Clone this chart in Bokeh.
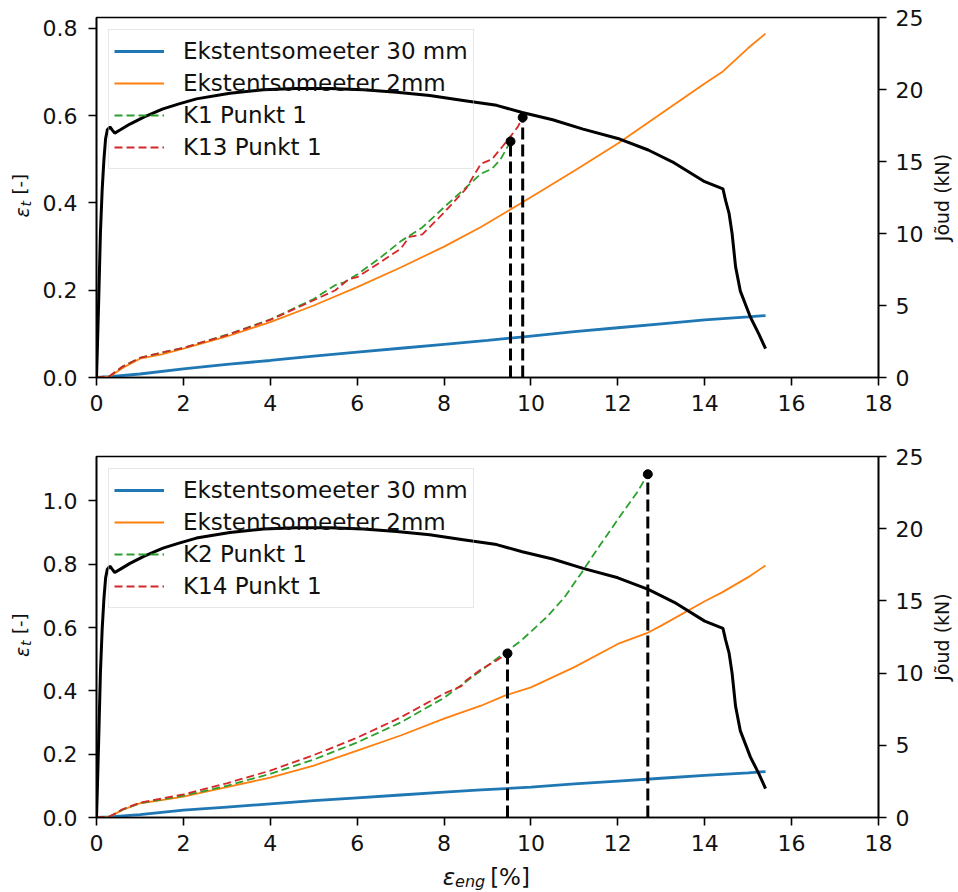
import math
from bokeh.plotting import figure
from bokeh.models import (Range1d, LinearAxis, FixedTicker, PrintfTickFormatter,
                          Legend, LegendItem)
from bokeh.core.properties import value
from bokeh.layouts import column, row
from bokeh.embed import file_html
from bokeh.resources import INLINE

# ---------------- data ----------------
x_ticks = [0, 2, 4, 6, 8, 10, 12, 14, 16, 18]
force_ticks = [0, 5, 10, 15, 20, 25]
top_eps_ticks = [0.0, 0.2, 0.4, 0.6, 0.8]
bot_eps_ticks = [0.0, 0.2, 0.4, 0.6, 0.8, 1.0]

# Force (kN) vs engineering strain (%) -- same test curve in both panels
force_x = [0, 0.02, 0.05, 0.09, 0.13, 0.17, 0.21, 0.25, 0.31, 0.36, 0.42, 0.55, 0.77,
           1.1, 1.53, 1.9, 2.3, 3.07, 3.84, 4.6, 5.37, 6.14, 6.91, 7.67, 8.44, 9.21,
           9.8, 10.5, 11.2, 12.0, 12.7, 13.3, 14.0, 14.42, 14.48, 14.56, 14.63, 14.71,
           14.82, 15.05, 15.25, 15.40]
force_kN = [0, 2.0, 5.3, 10.0, 13.0, 15.1, 16.6, 17.2, 17.4, 17.2, 16.97, 17.2, 17.6,
            18.1, 18.65, 19.0, 19.35, 19.74, 19.98, 20.07, 20.07, 19.98, 19.81, 19.58,
            19.24, 18.9, 18.4, 17.9, 17.25, 16.6, 15.8, 14.9, 13.6, 13.1, 12.3, 11.4,
            10.0, 7.7, 6.0, 4.2, 3.0, 2.0]

# Top panel
top_ext30_x = [0, 0.3, 1, 2, 3, 4, 5, 6, 7, 8, 9, 10, 11, 12, 13, 14, 15, 15.4]
top_ext30_y = [0, 0.002, 0.008, 0.020, 0.030, 0.039, 0.049, 0.058, 0.067, 0.076, 0.085,
               0.095, 0.105, 0.114, 0.123, 0.132, 0.139, 0.142]
top_ext2_x = [0, 0.3, 0.6, 1, 1.5, 2, 3, 4, 5, 6, 7, 8, 8.85, 9.78, 11, 12, 13, 14,
              14.4, 15, 15.4]
top_ext2_y = [0, 0.002, 0.022, 0.043, 0.053, 0.066, 0.094, 0.127, 0.165, 0.207, 0.252,
              0.300, 0.345, 0.400, 0.474, 0.536, 0.605, 0.674, 0.700, 0.755, 0.788]
k1_x = [0, 0.3, 0.6, 1, 1.5, 2, 3, 4, 5, 5.5, 5.7, 6, 6.5, 7, 7.5, 8, 8.5, 8.85, 9.1,
        9.3, 9.53]
k1_y = [0, 0.003, 0.025, 0.045, 0.057, 0.068, 0.098, 0.133, 0.180, 0.212, 0.218, 0.236,
        0.272, 0.312, 0.344, 0.390, 0.435, 0.467, 0.478, 0.500, 0.541]
k13_x = [0, 0.3, 0.6, 1, 1.5, 2, 3, 4, 5, 5.5, 5.8, 6, 6.5, 7, 7.2, 7.5, 8, 8.5, 8.85,
         9.1, 9.35, 9.55, 9.7, 9.81]
k13_y = [0, 0.003, 0.025, 0.045, 0.057, 0.068, 0.097, 0.132, 0.177, 0.200, 0.225, 0.230,
         0.262, 0.295, 0.322, 0.328, 0.378, 0.432, 0.490, 0.500, 0.530, 0.555, 0.575,
         0.596]

# Bottom panel
bot_ext30_x = [0, 0.3, 1, 2, 3, 4, 5, 6, 7, 8, 8.85, 10, 11, 12, 13, 14, 15, 15.4]
bot_ext30_y = [0, 0.002, 0.009, 0.023, 0.033, 0.043, 0.053, 0.062, 0.071, 0.080, 0.087,
               0.096, 0.106, 0.115, 0.124, 0.133, 0.141, 0.145]
bot_ext2_x = [0, 0.3, 0.6, 1, 1.5, 2, 3, 4, 5, 6, 7, 8, 8.85, 9.4, 10, 11, 12, 12.7,
              13, 14, 14.4, 15, 15.4]
bot_ext2_y = [0, 0.002, 0.024, 0.045, 0.055, 0.066, 0.096, 0.126, 0.164, 0.211, 0.259,
              0.312, 0.353, 0.385, 0.411, 0.475, 0.548, 0.584, 0.606, 0.683, 0.711,
              0.759, 0.796]
k2_x = [0, 0.3, 0.6, 1, 1.5, 2, 3, 4, 5, 6, 7, 8, 8.85, 9.46, 9.77, 10.38, 10.77,
        11.15, 11.54, 12.07, 12.46, 12.69]
k2_y = [0, 0.003, 0.025, 0.045, 0.057, 0.069, 0.100, 0.138, 0.183, 0.237, 0.300, 0.378,
        0.464, 0.527, 0.558, 0.635, 0.695, 0.770, 0.850, 0.955, 1.030, 1.084]
k14_x = [0, 0.3, 0.6, 1, 1.5, 2, 3, 4, 5, 6, 7, 8, 8.4, 8.5, 8.85, 9.2, 9.46]
k14_y = [0, 0.003, 0.026, 0.047, 0.060, 0.073, 0.108, 0.148, 0.197, 0.252, 0.316, 0.391,
         0.415, 0.432, 0.468, 0.495, 0.518]

legend_top = ["Ekstentsomeeter 30 mm", "Ekstentsomeeter 2mm", "K1 Punkt 1", "K13 Punkt 1"]
legend_bot = ["Ekstentsomeeter 30 mm", "Ekstentsomeeter 2mm", "K2 Punkt 1", "K14 Punkt 1"]

y_label_parts = ["ε", "t", "[-]"]
x_label_parts = ["ε", "eng", "[%]"]
right_label = "Jõud (kN)"

# ---------------- style / layout ----------------
FONT = "DejaVu Sans"
TXT = "#111111"
BLUE, ORANGE, GREEN, RED = "#1f77b4", "#ff7f0e", "#2ca02c", "#d62728"

LW, RW = 36, 28                   # left / right label columns
MW = 928 - LW                     # main figures (frame page x 96..878)
H1 = 425                          # top main figure (frame page y 17..377)
H2 = 437                          # bottom main figure (frame page y 456..817)
HX = 28                           # x-label strip
HL2 = H2 + HX                     # bottom label column height


def style_axis(ax, ticks, fmt, standoff):
    ax.ticker = FixedTicker(ticks=ticks)
    ax.formatter = PrintfTickFormatter(format=fmt)
    ax.major_tick_out = 8
    ax.major_tick_in = 0
    ax.minor_tick_out = 0
    ax.minor_tick_in = 0
    ax.axis_line_color = "black"
    ax.axis_line_width = 1.6
    ax.major_tick_line_color = "black"
    ax.major_tick_line_width = 1.6
    ax.major_label_text_font = FONT
    ax.major_label_text_font_size = "22px"
    ax.major_label_text_color = TXT
    ax.major_label_standoff = standoff


def panel(height, btop, bbot, ymax, yticks, e30x, e30y, e2x, e2y, ax_, ay_, bx_, by_,
          names):
    p = figure(width=MW, height=height, x_range=Range1d(0, 18), y_range=Range1d(0, ymax),
               min_border_left=96 - LW, min_border_right=MW + LW - 878,
               min_border_top=btop, min_border_bottom=bbot,
               output_backend="svg", toolbar_location=None)
    p.xgrid.visible = False
    p.ygrid.visible = False
    p.outline_line_color = "black"
    p.outline_line_width = 1.6
    p.outline_line_alpha = 1.0
    style_axis(p.xaxis[0], x_ticks, "%d", 9)
    style_axis(p.yaxis[0], yticks, "%.1f", 11)

    p.extra_y_ranges = {"F": Range1d(0, 25)}
    rax = LinearAxis(y_range_name="F")
    style_axis(rax, force_ticks, "%d", 9)
    p.add_layout(rax, "right")

    r1 = p.line(e30x, e30y, line_color=BLUE, line_width=2.8)
    r2 = p.line(e2x, e2y, line_color=ORANGE, line_width=1.8)
    r3 = p.line(ax_, ay_, line_color=GREEN, line_width=1.8, line_dash="8 4")
    r4 = p.line(bx_, by_, line_color=RED, line_width=1.8, line_dash="8 4")

    ends_x = [ax_[-1], bx_[-1]]
    ends_y = [ay_[-1], by_[-1]]
    p.segment(x0=ends_x, y0=[0, 0], x1=ends_x, y1=ends_y, line_color="black",
              line_width=3, line_dash="12 5")
    p.scatter(ends_x, ends_y, size=9, color="black")

    # force curve on the right-hand axis
    p.line(force_x, force_kN, y_range_name="F", line_color="black", line_width=3)

    # legend box is see-through so the force curve stays black where it crosses it
    leg = Legend(items=[LegendItem(label=names[0], renderers=[r1]),
                        LegendItem(label=names[1], renderers=[r2]),
                        LegendItem(label=names[2], renderers=[r3]),
                        LegendItem(label=names[3], renderers=[r4])],
                 location="top_left", margin=12, padding=5, spacing=0,
                 glyph_width=50, glyph_height=32, label_height=32, label_standoff=19,
                 label_text_font=FONT, label_text_font_size="23px",
                 label_text_color=TXT,
                 border_line_color="#d0d0d0", border_line_width=1.5,
                 background_fill_color="white", background_fill_alpha=0.0)
    p.add_layout(leg)
    return p


def strip(w, h):
    # a plain text strip: ranges are in local pixels, y measured from the top
    f = figure(width=w, height=h, x_range=Range1d(0, w), y_range=Range1d(h, 0),
               min_border_left=0, min_border_right=0, min_border_top=0,
               min_border_bottom=0, x_axis_location=None, y_axis_location=None,
               output_backend="svg", toolbar_location=None)
    f.xgrid.visible = False
    f.ygrid.visible = False
    f.outline_line_color = None
    return f


def put(f, x, y, txt, size, italic=False, angle=0.0, align="left"):
    f.text(x=[x], y=[y], text=[txt], angle=angle,
           text_font=value(FONT), text_font_size=value(size),
           text_font_style=value("italic" if italic else "normal"),
           text_align=value(align), text_baseline=value("middle"),
           text_color=TXT)


p1 = panel(H1, 17, H1 - 17 - 360, 0.825, top_eps_ticks, top_ext30_x, top_ext30_y,
           top_ext2_x, top_ext2_y, k1_x, k1_y, k13_x, k13_y, legend_top)
p2 = panel(H2, 456 - H1, H2 - (456 - H1) - 361, 1.14, bot_eps_ticks,
           bot_ext30_x, bot_ext30_y, bot_ext2_x, bot_ext2_y, k2_x, k2_y,
           k14_x, k14_y, legend_bot)

HALF = math.pi / 2


def ylabel_strip(h, center):
    f = strip(LW, h)
    off = center - 197
    put(f, 21.0, 217 + off, y_label_parts[0], "19px", italic=True, angle=HALF)
    put(f, 25.5, 206 + off, y_label_parts[1], "14px", italic=True, angle=HALF)
    put(f, 19.3, 194 + off, y_label_parts[2], "18px", angle=HALF)
    return f


def rlabel_strip(h, center):
    f = strip(RW, h)
    put(f, 941.0 - (LW + MW), center, right_label, "19px", angle=HALF, align="center")
    return f


l1 = ylabel_strip(H1, 197)
l2 = ylabel_strip(HL2, 636.5 - H1)
r1s = rlabel_strip(H1, 197)
r2s = rlabel_strip(HL2, 636.5 - H1)

xs = strip(MW, HX)
top_x = H1 + H2
put(xs, 431 - LW, 876.5 - top_x, x_label_parts[0], "23px", italic=True)
put(xs, 445 - LW, 881.0 - top_x, x_label_parts[1], "16px", italic=True)
put(xs, 485 - LW, 876.5 - top_x, x_label_parts[2], "23px")

layout = row(column(l1, l2, spacing=0), column(p1, p2, xs, spacing=0),
             column(r1s, r2s, spacing=0), spacing=0)
open("out.html", "w").write(file_html(layout, INLINE))
